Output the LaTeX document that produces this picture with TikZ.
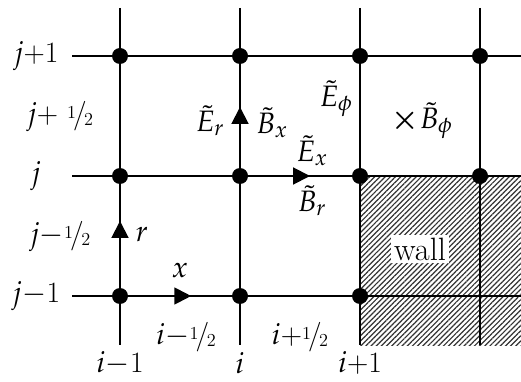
\documentclass[tikz,border=0pt]{standalone}
\usepackage{amsmath}
\usepackage{mathpazo}
\usepackage{tikz}
\usetikzlibrary{arrows.meta,patterns.meta,calc}

\newcommand{\hlf}{\raisebox{0.4ex}{\fontsize{13}{13}\selectfont 1}\kern-0.1em/\kern-0.08em\raisebox{-0.15ex}{\fontsize{13}{13}\selectfont 2}}

\begin{document}
\begin{tikzpicture}[
  dot/.style={circle, fill=black, inner sep=0pt, minimum size=0.4cm},
  grid/.style={line width=1.4pt},
  tri/.style={line width=1.4pt, -{Triangle[length=0.42cm, width=0.42cm]}},
  lab/.style={font=\fontsize{21}{25}\selectfont, inner sep=1pt},
]
\useasboundingbox (0,0) rectangle (13.025,9.525);

% wall region
\fill[pattern={Lines[angle=45, distance=2.6pt, line width=0.85pt]}, pattern color=black!80] (9,0.9) rectangle (13.025,5.125);

% grid points
\coordinate (a1) at (3,8.125);
\coordinate (a2) at (6,8.125);
\coordinate (a3) at (9,8.125);
\coordinate (a4) at (12,8.125);
\coordinate (b1) at (3,5.125);
\coordinate (b2) at (6,5.125);
\coordinate (b3) at (9,5.125);
\coordinate (b4) at (12,5.125);
\coordinate (c1) at (3,2.125);
\coordinate (c2) at (6,2.125);
\coordinate (c3) at (9,2.125);
\coordinate (c4) at (12,2.125);

% free line ends
\coordinate (t1) at (3,9.325);
\coordinate (t2) at (6,9.325);
\coordinate (t3) at (9,9.325);
\coordinate (t4) at (12,9.325);
\coordinate (u1) at (3,0.9);
\coordinate (u2) at (6,0.9);
\coordinate (u3) at (9,0.9);
\coordinate (u4) at (12,0.9);
\coordinate (l1) at (1.8,8.125);
\coordinate (l2) at (1.8,5.125);
\coordinate (l3) at (1.8,2.125);
\coordinate (r1) at (13.025,8.125);
\coordinate (r2) at (13.025,5.125);
\coordinate (r3) at (13.025,2.125);

\draw[grid] (t1) -- (u1);
\draw[grid] (t2) -- (u2);
\draw[grid] (t3) -- (u3);
\draw[grid] (t4) -- (u4);
\draw[grid] (l1) -- (r1);
\draw[grid] (l2) -- (r2);
\draw[grid] (l3) -- (r3);

\node[font=\fontsize{23}{27}\selectfont, fill=white, inner sep=2pt] (wall) at (10.5,3.3) {wall};

% nodes on the mesh
\foreach \p in {a1,a2,a3,a4,b1,b2,b3,b4,c1,c2,c3}
  \node[dot] at (\p) {};

% field arrows
\coordinate (er) at (6,6.85);
\coordinate (ex) at (7.75,5.125);
\coordinate (rr) at (3,4.0);
\coordinate (xx) at (4.78,2.125);
\draw[tri] ($(er)+(0,-0.4)$) -- (er);
\draw[tri] ($(ex)+(-0.4,0)$) -- (ex);
\draw[tri] ($(rr)+(0,-0.4)$) -- (rr);
\draw[tri] ($(xx)+(-0.4,0)$) -- (xx);

% row labels
\node[lab] (jp1) at (0.9,8.125) {$j$+1};
\node[lab] (jph) at (1.5,6.6) {$j$+ \hlf};
\node[lab] (j0) at (0.9,5.125) {$j$};
\node[lab] (jmh) at (1.5,3.6) {$j$$-$\hlf};
\node[lab] (jm1) at (0.9,2.125) {$j$$-$1};

% column labels
\node[lab] (im1) at (3,0.45) {$i$$-$1};
\node[lab] (i0) at (6,0.45) {$i$};
\node[lab] (ip1) at (9,0.45) {$i$+1};
\node[lab] (imh) at (4.65,1.1) {$i$$-$\hlf};
\node[lab] (iph) at (7.5,1.1) {$i$+\hlf};

% field labels
\node[lab] (Er) at (5.25,6.5) {$\tilde{E}_r$};
\node[lab] (Bx) at (6.8,6.45) {$\tilde{B}_x$};
\node[lab] (Ephi) at (8.4,7.05) {$\tilde{E}_\phi$};
\node[lab] (Bphi) at (10.55,6.5) {$\boldsymbol{\times}\tilde{B}_\phi$};
\node[lab] (Ex) at (7.8,5.75) {$\tilde{E}_x$};
\node[lab] (Br) at (7.8,4.5) {$\tilde{B}_r$};
\node[lab] (r) at (3.55,3.65) {$r$};
\node[lab] (x) at (4.5,2.75) {$x$};
\end{tikzpicture}
\end{document}
